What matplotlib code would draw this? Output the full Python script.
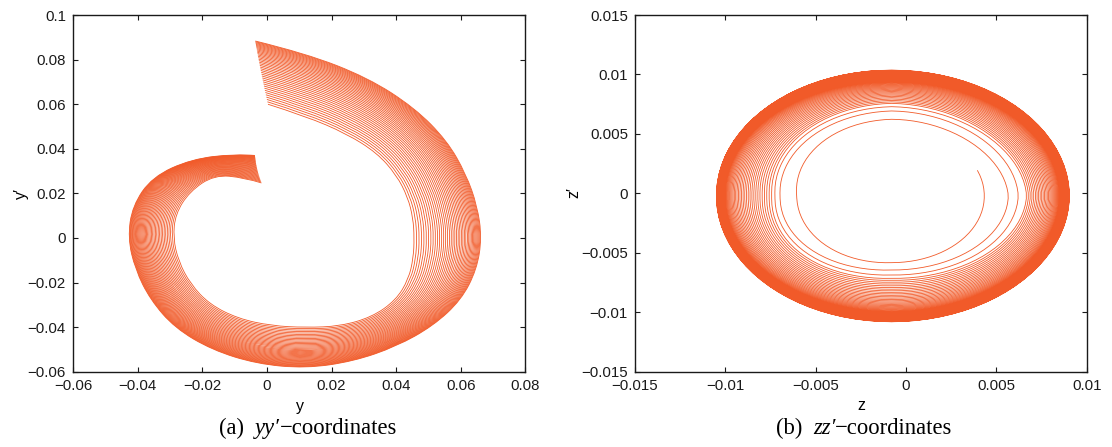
import numpy as np
import matplotlib
matplotlib.use("Agg")
import matplotlib.pyplot as plt
from matplotlib.path import Path
from matplotlib.patches import PathPatch
from matplotlib.text import Annotation

plt.rcParams["font.family"] = ["Liberation Sans", "DejaVu Sans"]

LINE = "#f15a29"

# ---- (a) yy' : a family of trajectories, read as polar radius around a centre
yy_centre = (0.012, 0.0)
deg_outer = [100, 90, 75, 60, 45, 30, 15, 0, -15, -30, -45, -60, -75, -90,
             -105, -120, -135, -150, -165, -180, -195, -210, -225, -240, -247]
deg_inner = [101, 90, 75, 60, 45, 30, 15, 0, -15, -30, -45, -60, -75, -90,
             -105, -120, -135, -150, -165, -180, -195, -210, -225, -235, -241]
r_outer = [0.0897, 0.0828, 0.0744, 0.0674, 0.0618, 0.0573, 0.0550, 0.0545,
           0.0548, 0.0556, 0.0558, 0.0562, 0.0573, 0.0585, 0.0585, 0.0580,
           0.0572, 0.0555, 0.0546, 0.0550, 0.0555, 0.0548, 0.0500, 0.0435, 0.0402]
r_inner = [0.0611, 0.0546, 0.0485, 0.0441, 0.0398, 0.0365, 0.0344, 0.0336,
           0.0345, 0.0368, 0.0395, 0.0410, 0.0410, 0.0402, 0.0408, 0.0418,
           0.0421, 0.0412, 0.0407, 0.0410, 0.0417, 0.0415, 0.0400, 0.0330, 0.0282]
# where each trajectory starts between the inner (0) and outer (1) one
blend = [0, 0.0385, 0.0763, 0.1135, 0.1500, 0.1858, 0.2209, 0.2553, 0.2891,
         0.3222, 0.3546, 0.3864, 0.4174, 0.4478, 0.4776, 0.5066, 0.5350, 0.5627,
         0.5897, 0.6161, 0.6417, 0.6667, 0.6911, 0.7147, 0.7377, 0.7600, 0.7816,
         0.8026, 0.8228, 0.8424, 0.8614, 0.8796, 0.8972, 0.9141, 0.9303, 0.9459,
         0.9607, 0.9749, 0.9885, 1.0]

# ---- (b) zz' : one trajectory spiralling out to a limit ellipse
zz_centre = (-0.0008, -0.0002)
zz_start_deg = 22
z_right = [0.00433, 0.00566, 0.00621, 0.00667]
z_left = [-0.00605, -0.00697, -0.00725, -0.00743]
zp_bottom = [-0.00583, -0.00645, -0.00687, -0.00715]
zp_top = [0.00623, 0.00693, 0.00729, 0.00757]
outer_right, outer_left = 0.00904, -0.01049
outer_bottom, outer_top = -0.0108, 0.01036
# how far each later turn has moved across the dense band
band_frac = [0.045, 0.089, 0.131, 0.172, 0.212, 0.250, 0.287, 0.323, 0.358,
             0.392, 0.425, 0.457, 0.488, 0.518, 0.547, 0.575, 0.602, 0.628,
             0.653, 0.677, 0.700, 0.722, 0.743, 0.763, 0.782, 0.800, 0.817,
             0.833, 0.848, 0.862, 0.875, 0.888, 0.900, 0.912, 0.923, 0.934,
             0.944, 0.954, 0.963, 0.972, 0.980, 0.987, 0.993, 0.998, 1.0]

yy_xticks = [-0.06, -0.04, -0.02, 0, 0.02, 0.04, 0.06, 0.08]
yy_xlabels = ["\u22120.06", "\u22120.04", "\u22120.02", "0", "0.02", "0.04", "0.06", "0.08"]
yy_yticks = [-0.06, -0.04, -0.02, 0, 0.02, 0.04, 0.06, 0.08, 0.1]
yy_ylabels = ["\u22120.06", "\u22120.04", "\u22120.02", "0", "0.02", "0.04", "0.06", "0.08", "0.1"]
zz_xticks = [-0.015, -0.01, -0.005, 0, 0.005, 0.01]
zz_xlabels = ["\u22120.015", "\u22120.01", "\u22120.005", "0", "0.005", "0.01"]
zz_yticks = [-0.015, -0.01, -0.005, 0, 0.005, 0.01, 0.015]
zz_ylabels = ["\u22120.015", "\u22120.01", "\u22120.005", "0", "0.005", "0.01", "0.015"]


def smooth_path(px, py):
    # quadratic B-spline: read points act as control points
    pts = np.column_stack([px, py])
    verts = [pts[0]]
    codes = [Path.MOVETO]
    for i in range(1, len(pts) - 2):
        verts += [pts[i], (pts[i] + pts[i + 1]) / 2]
        codes += [Path.CURVE3, Path.CURVE3]
    verts += [pts[-2], pts[-1]]
    codes += [Path.CURVE3, Path.CURVE3]
    return Path(verts, codes)


def spiral(right, left, bottom, top, centre, start_deg, step=4.0):
    cx, cy = centre
    n = len(right)
    th_x = -180.0 * np.arange(2 * n)
    amp_x = np.empty(2 * n)
    amp_x[0::2] = np.asarray(right) - cx
    amp_x[1::2] = cx - np.asarray(left)
    th_y = -90.0 - 180.0 * np.arange(2 * n)
    amp_y = np.empty(2 * n)
    amp_y[0::2] = cy - np.asarray(bottom)
    amp_y[1::2] = np.asarray(top) - cy
    th = np.arange(start_deg, th_y[-1] - 360, -step)
    ax_ = np.interp(th, th_x[::-1], amp_x[::-1])
    ay_ = np.interp(th, th_y[::-1], amp_y[::-1])
    t = np.radians(th)
    return cx + ax_ * np.cos(t), cy + ay_ * np.sin(t)


def style(ax, xlim, ylim, xt, xl, yt, yl):
    ax.set_xlim(*xlim)
    ax.set_ylim(*ylim)
    ax.set_xticks(xt, labels=xl)
    ax.set_yticks(yt, labels=yl)
    ax.tick_params(direction="in", top=True, right=True, length=3.5, width=0.8,
                   pad=5, labelsize=10.8, colors="#1a1a1a")
    for s in ax.spines.values():
        s.set_linewidth(1.0)
        s.set_color("#1a1a1a")


fig = plt.figure(figsize=(11.12, 4.47), dpi=100)
ax1 = fig.add_axes([0.0656, 0.1685, 0.4069, 0.7979])
ax2 = fig.add_axes([0.5710, 0.1685, 0.4063, 0.7979])

# (a)
d_out, d_in = np.array(deg_outer, float), np.array(deg_inner, float)
ro, ri = np.array(r_outer), np.array(r_inner)
for w in blend:
    deg = np.radians(d_in + w * (d_out - d_in))
    r = ri + w * (ro - ri)
    path = smooth_path(yy_centre[0] + r * np.cos(deg), yy_centre[1] + r * np.sin(deg))
    ax1.add_patch(PathPatch(path, fill=False, edgecolor=LINE, lw=0.6))
style(ax1, (-0.06, 0.08), (-0.06, 0.1), yy_xticks, yy_xlabels, yy_yticks, yy_ylabels)

# (b)
zr = z_right + [z_right[-1] + f * (outer_right - z_right[-1]) for f in band_frac]
zl = z_left + [z_left[-1] + f * (outer_left - z_left[-1]) for f in band_frac]
zb = zp_bottom + [zp_bottom[-1] + f * (outer_bottom - zp_bottom[-1]) for f in band_frac]
zt = zp_top + [zp_top[-1] + f * (outer_top - zp_top[-1]) for f in band_frac]
sx, sy = spiral(zr, zl, zb, zt, zz_centre, zz_start_deg)
ax2.plot(sx, sy, color=LINE, lw=0.6)
style(ax2, (-0.015, 0.01), (-0.015, 0.015), zz_xticks, zz_xlabels, zz_yticks, zz_ylabels)

# axis labels
W, H = 1112.0, 447.0
fig.text(299.5 / W, 1 - 410.5 / H, "y", ha="center", va="baseline", fontsize=11.5)
fig.text(861.0 / W, 1 - 410.5 / H, "z", ha="center", va="baseline", fontsize=11.5)
fig.text(21 / W, 1 - 193 / H, "y\u2032", ha="center", va="center", rotation=90, fontsize=11.5)
fig.text(574 / W, 1 - 193 / H, "z\u2032", ha="center", va="center", rotation=90, fontsize=11.5)

# captions
serif = ["Liberation Serif", "DejaVu Serif"]
for left, tag, var in [(219, "(a)", "yy\u2032"), (776, "(b)", "zz\u2032")]:
    t1 = fig.text(left / W, 1 - 434 / H, tag, ha="left", va="baseline",
                  family=serif, fontsize=16.3)
    a2 = fig.add_artist(Annotation(
        var, xy=(1, 0), xycoords=t1, xytext=(7.5, 0), textcoords="offset points",
        ha="left", va="bottom", family=serif, style="italic", fontsize=16.3))
    fig.add_artist(Annotation(
        "\u2212coordinates", xy=(1, 0), xycoords=a2, ha="left", va="bottom",
        family=serif, fontsize=16.3))

fig.savefig("out.png", dpi=100)
